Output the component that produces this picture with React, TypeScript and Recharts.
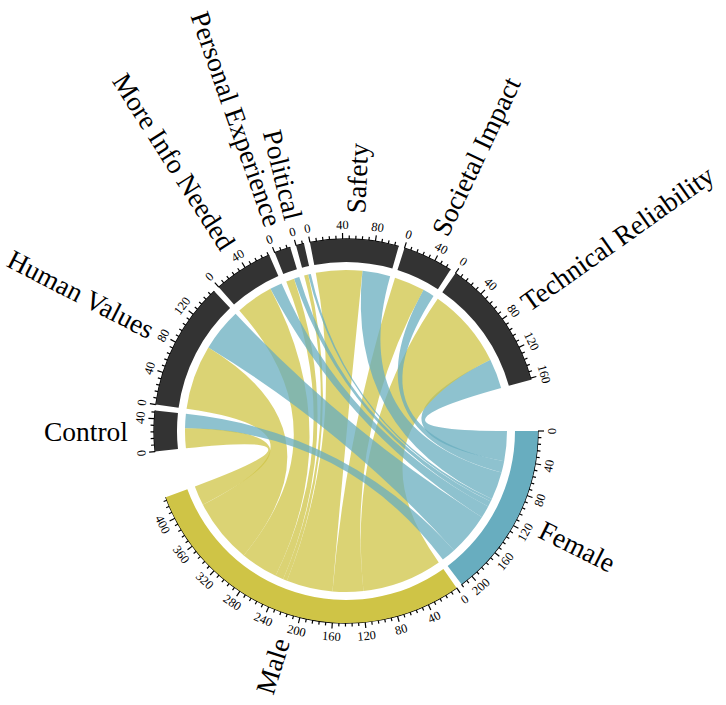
import React from 'react';
import { PieChart, Pie, Cell } from 'recharts';

// reasons given, split by gender
const categories = [
  'Control',
  'Human Values',
  'More Info Needed',
  'Personal Experience',
  'Political',
  'Safety',
  'Societal Impact',
  'Technical Reliability',
];
const maleCounts = [29, 95, 55, 12, 6, 68, 45, 118];
const femaleCounts = [21, 63, 18, 8, 4, 41, 17, 44];

const CX = 346;
const CY = 431;
const BAND_IN = 169;
const BAND_OUT = 192;
const LINK_R = 161;
const SMALL_GAP = 1.8;
const GAP_AFTER_MALE = 14;
const GAP_AFTER_LAST = 15.5;

const GRID = '#333333';
const FEMALE = '#68adbf';
const MALE = '#cfc446';
const FONT = '"Liberation Serif", "DejaVu Serif", serif';

const sum = (a: number[]) => a.reduce((s, v) => s + v, 0);
const rad = (d: number) => (d * Math.PI) / 180;
const pt = (deg: number, r: number) => [CX + r * Math.cos(rad(deg)), CY + r * Math.sin(rad(deg))];

// sectors go clockwise from 3 o'clock: Female, Male, then the categories
const sectors = [
  { name: 'Female', value: sum(femaleCounts), color: FEMALE },
  { name: 'Male', value: sum(maleCounts), color: MALE },
  ...categories.map((c, i) => ({ name: c, value: maleCounts[i] + femaleCounts[i], color: GRID })),
];
const gaps = sectors.map((_, i) => (i === 1 ? GAP_AFTER_MALE : i === sectors.length - 1 ? GAP_AFTER_LAST : SMALL_GAP));
const k = (360 - sum(gaps)) / sum(sectors.map((s) => s.value));

let acc = 0;
const placed = sectors.map((s, i) => {
  const start = acc;
  const end = start + s.value * k;
  acc = end + gaps[i];
  return { ...s, start, end };
});

const pieData: { name: string; value: number; fill: string }[] = [];
sectors.forEach((s, i) => {
  pieData.push({ name: s.name, value: s.value, fill: s.color });
  pieData.push({ name: 'gap', value: gaps[i] / k, fill: 'none' });
});

// link ends: category side holds male then female, gender side runs in reverse category order
type Link = { a1: number; a2: number; b1: number; b2: number; color: string };
const links: Link[] = [];
const genderPos = [placed[0].start, placed[1].start];
const catPos = categories.map((_, i) => placed[i + 2].start);
for (let j = categories.length - 1; j >= 0; j--) {
  [femaleCounts, maleCounts].forEach((arr, g) => {
    const v = arr[j];
    const b1 = genderPos[g];
    genderPos[g] += v * k;
    links.push({ a1: 0, a2: 0, b1, b2: genderPos[g], color: g === 0 ? FEMALE : MALE });
  });
}
categories.forEach((_, j) => {
  const idxBase = (categories.length - 1 - j) * 2;
  const fem = links[idxBase];
  const mal = links[idxBase + 1];
  mal.a1 = catPos[j];
  mal.a2 = catPos[j] + maleCounts[j] * k;
  fem.a1 = mal.a2;
  fem.a2 = fem.a1 + femaleCounts[j] * k;
});

function ribbonPath(l: Link) {
  const R = LINK_R;
  const [x1, y1] = pt(l.a1, R);
  const [x2, y2] = pt(l.a2, R);
  const [x3, y3] = pt(l.b1, R);
  const [x4, y4] = pt(l.b2, R);
  const la = l.a2 - l.a1 > 180 ? 1 : 0;
  const lb = l.b2 - l.b1 > 180 ? 1 : 0;
  return `M${x1},${y1} A${R},${R} 0 ${la} 1 ${x2},${y2} Q${CX},${CY} ${x3},${y3} A${R},${R} 0 ${lb} 1 ${x4},${y4} Q${CX},${CY} ${x1},${y1} Z`;
}

function Ribbons() {
  return (
    <g>
      {links.map((l, i) => (
        <path key={i} d={ribbonPath(l)} fill={l.color} fillOpacity={0.75} stroke="none" />
      ))}
    </g>
  );
}

function Axes() {
  const items: React.ReactNode[] = [];
  placed.forEach((s, si) => {
    const [ax, ay] = pt(s.start, BAND_OUT);
    const [bx, by] = pt(s.end, BAND_OUT);
    items.push(
      <path key={`ax${si}`} d={`M${ax},${ay} A${BAND_OUT},${BAND_OUT} 0 0 1 ${bx},${by}`} fill="none" stroke="#000" strokeWidth={1.3} />
    );
    for (let v = 0; v <= s.value; v += 8) {
      const deg = s.start + v * k;
      const major = v % 40 === 0;
      const [x1, y1] = pt(deg, BAND_OUT);
      const [x2, y2] = pt(deg, BAND_OUT + (major ? 6 : 3.5));
      items.push(<line key={`t${si}-${v}`} x1={x1} y1={y1} x2={x2} y2={y2} stroke="#000" strokeWidth={1.2} />);
      if (major) {
        const [tx, ty] = pt(deg, BAND_OUT + 14);
        const d = ((deg % 360) + 360) % 360;
        const rot = d < 180 ? d - 90 : d + 90;
        items.push(
          <text key={`l${si}-${v}`} x={tx} y={ty} fontSize={12.5} fontFamily={FONT} textAnchor="middle" dominantBaseline="central" transform={`rotate(${rot} ${tx} ${ty})`}>
            {v}
          </text>
        );
      }
    }
    const mid = (s.start + s.end) / 2;
    const [nx, ny] = pt(mid, 218);
    const left = mid > 90 && mid < 270;
    items.push(
      <text key={`n${si}`} x={nx} y={ny} fontSize={27.5} fontFamily={FONT} textAnchor={left ? 'end' : 'start'} dominantBaseline="central" transform={`rotate(${left ? mid - 180 : mid} ${nx} ${ny})`}>
        {s.name}
      </text>
    );
  });
  return <g>{items}</g>;
}

export default function App() {
  return (
    <div style={{ position: 'absolute', left: 0, top: 0, width: 726, height: 705, background: '#fff' }}>
      <PieChart width={726} height={705} margin={{ top: 0, right: 0, bottom: 0, left: 0 }}>
        <Pie
          data={pieData}
          dataKey="value"
          cx={CX}
          cy={CY}
          innerRadius={BAND_IN}
          outerRadius={BAND_OUT}
          startAngle={0}
          endAngle={-360}
          paddingAngle={0}
          stroke="none"
          isAnimationActive={false}
        >
          {pieData.map((d, i) => (
            <Cell key={i} fill={d.fill} />
          ))}
        </Pie>
        <Ribbons />
        <Axes />
      </PieChart>
    </div>
  );
}
